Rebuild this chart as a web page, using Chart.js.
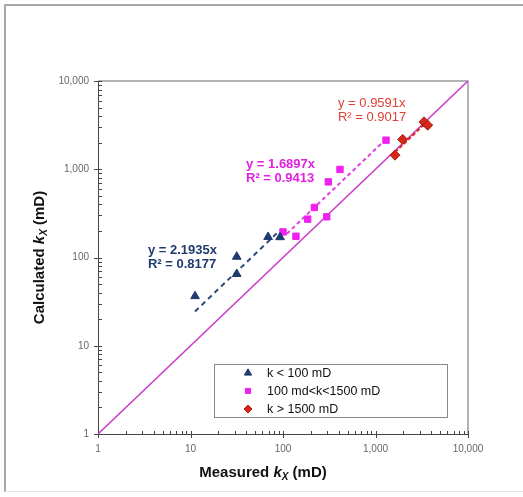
<!DOCTYPE html>
<html><head><meta charset="utf-8">
<script src="https://cdn.jsdelivr.net/npm/chart.js@4.4.0/dist/chart.umd.min.js"></script>
<style>html,body{margin:0;padding:0;background:#fff;overflow:hidden;} canvas{display:block;}</style>
</head><body>
<canvas id="c" width="523" height="497"></canvas>
<script>
// ---- data ----
const seriesNames = ['k < 100 mD', '100 md<k<1500 mD', 'k > 1500 mD'];
const lowMeasured = [11.2, 31.6, 31.6, 69, 93];
const lowCalculated = [36.5, 102, 65, 171, 170];
const midMeasured = [100, 138, 185, 218, 297, 309, 413, 1300];
const midCalculated = [195, 174, 272, 369, 289, 719, 995, 2135];
const highMeasured = [1625, 1967, 3344, 3663];
const highCalculated = [1445, 2175, 3440, 3162];
const lowTrendX = [11.2, 93];
const lowTrendY = [24.5, 204];
const midTrendX = [110, 1300];
const midTrendY = [186, 2197];
const highTrendX = [1625, 3663];
const highTrendY = [1558, 3513];
const unityX = [1, 10000];
const unityY = [1, 10000];
const tickValues = [1, 10, 100, 1000, 10000];
const lowFitText = ['y = 2.1935x', 'R² = 0.8177'];
const midFitText = ['y = 1.6897x', 'R² = 0.9413'];
const highFitText = ['y = 0.9591x', 'R² = 0.9017'];
const xTitleParts = ['Measured ', 'k', 'X', ' (mD)'];
const yTitleParts = ['Calculated ', 'k', 'X', ' (mD)'];

const FONT = '"Liberation Sans", Arial, Helvetica, sans-serif';
const NAVY = '#1f3a6e';
const MAGENTA = '#f020f0';
const RED = '#d8261a';
const UNITY = '#cc3fcc';

const pts = (xs, ys) => xs.map((x, i) => ({x: x, y: ys[i]}));

function drawRich(ctx, parts, cx, cy, rotate) {
  const fonts = ['bold 15px ' + FONT, 'italic bold 15px ' + FONT, 'italic bold 10px ' + FONT, 'bold 15px ' + FONT];
  const dys = [0, 0, 4, 0];
  let w = 0; const ws = [];
  parts.forEach((p, i) => { ctx.font = fonts[i]; const m = ctx.measureText(p).width; ws.push(m); w += m; });
  ctx.save();
  ctx.translate(cx, cy);
  if (rotate) ctx.rotate(-Math.PI / 2);
  ctx.fillStyle = '#111';
  ctx.textBaseline = 'middle';
  ctx.textAlign = 'left';
  let x = -w / 2;
  parts.forEach((p, i) => { ctx.font = fonts[i]; ctx.fillText(p, x, dys[i]); x += ws[i]; });
  ctx.restore();
}

const decor = {
  id: 'decor',
  beforeDraw(chart) {
    const ctx = chart.ctx;
    ctx.save();
    ctx.fillStyle = '#fff';
    ctx.fillRect(0, 0, chart.width, chart.height);
    ctx.strokeStyle = '#a8a8a8';
    ctx.lineWidth = 2;
    ctx.beginPath();
    ctx.moveTo(5, chart.height - 5); ctx.lineTo(5, 5); ctx.lineTo(chart.width, 5);
    ctx.stroke();
    ctx.strokeStyle = '#e4e4e4';
    ctx.lineWidth = 1;
    ctx.beginPath(); ctx.moveTo(5, chart.height - 5.5); ctx.lineTo(chart.width, chart.height - 5.5); ctx.stroke();
    ctx.restore();
  },
  beforeDatasetsDraw(chart) {
    const ctx = chart.ctx, a = chart.chartArea;
    const xs = chart.scales.x, ys = chart.scales.y;
    ctx.save();
    ctx.lineWidth = 1.5;
    ctx.strokeStyle = '#9a9a9a';
    ctx.beginPath();
    ctx.moveTo(a.left, a.top); ctx.lineTo(a.right, a.top); ctx.lineTo(a.right, a.bottom);
    ctx.stroke();
    ctx.strokeStyle = '#444';
    ctx.lineWidth = 1;
    ctx.beginPath();
    ctx.moveTo(a.left + 0.5, a.top); ctx.lineTo(a.left + 0.5, a.bottom + 0.5); ctx.lineTo(a.right, a.bottom + 0.5);
    ctx.stroke();
    ctx.beginPath();
    for (let d = 0; d < tickValues.length; d++) {
      const v = tickValues[d];
      const px = Math.round(xs.getPixelForValue(v)) + 0.5;
      const py = Math.round(ys.getPixelForValue(v)) + 0.5;
      ctx.moveTo(px, a.bottom - 3); ctx.lineTo(px, a.bottom + 4);
      ctx.moveTo(a.left - 4, py); ctx.lineTo(a.left + 4, py);
      if (d < tickValues.length - 1) {
        for (let k = 2; k <= 9; k++) {
          const mx = Math.round(xs.getPixelForValue(v * k)) + 0.5;
          const my = Math.round(ys.getPixelForValue(v * k)) + 0.5;
          ctx.moveTo(mx, a.bottom - 3); ctx.lineTo(mx, a.bottom + 0.5);
          ctx.moveTo(a.left, my); ctx.lineTo(a.left + 4, my);
        }
      }
    }
    ctx.stroke();
    ctx.restore();
  },
  afterDraw(chart) {
    const ctx = chart.ctx, a = chart.chartArea;
    const xs = chart.scales.x, ys = chart.scales.y;
    ctx.save();
    const labs = [
      {t: lowFitText, x: 3.47, y: 121, c: NAVY, w: 'bold'},
      {t: midFitText, x: 39.8, y: 1142, c: '#e21fe2', w: 'bold'},
      {t: highFitText, x: 393, y: 5607, c: '#e04036', w: 'normal'}
    ];
    ctx.textAlign = 'left';
    ctx.textBaseline = 'middle';
    labs.forEach(l => {
      ctx.font = l.w + ' 13px ' + FONT;
      ctx.fillStyle = l.c;
      const px = xs.getPixelForValue(l.x), py = ys.getPixelForValue(l.y);
      ctx.fillText(l.t[0], px, py);
      ctx.fillText(l.t[1], px, py + 14);
    });
    const lx = a.left + 116, ly = a.top + 283, lw = 233, lh = 53;
    ctx.fillStyle = '#fff';
    ctx.fillRect(lx, ly, lw, lh);
    ctx.strokeStyle = '#888';
    ctx.lineWidth = 1;
    ctx.strokeRect(lx + 0.5, ly + 0.5, lw, lh);
    ctx.font = '12.5px ' + FONT;
    ctx.textBaseline = 'middle';
    const legendRadius = [4.2, 3.6, 4];
    for (let i = 0; i < 3; i++) {
      const ds = chart.data.datasets[i];
      const cy = ly + 9 + i * 18;
      ctx.fillStyle = ds.backgroundColor;
      ctx.strokeStyle = ds.borderColor;
      ctx.lineWidth = 1;
      Chart.helpers.drawPoint(ctx, {pointStyle: ds.pointStyle, radius: legendRadius[i], borderWidth: 1, rotation: 0}, lx + 34, cy);
      ctx.fillStyle = '#111';
      ctx.fillText(seriesNames[i], lx + 53, cy + 1);
    }
    drawRich(ctx, xTitleParts, (a.left + a.right) / 2 - 20, 473, false);
    drawRich(ctx, yTitleParts, 40, (a.top + a.bottom) / 2, true);
    ctx.restore();
  }
};

const tickCallback = v => tickValues.includes(v) ? v.toLocaleString('en-US') : '';

new Chart(document.getElementById('c'), {
  type: 'scatter',
  data: {
    datasets: [
      {label: seriesNames[0], data: pts(lowMeasured, lowCalculated), pointStyle: 'triangle', pointRadius: 5, backgroundColor: NAVY, borderColor: NAVY, borderWidth: 1},
      {label: seriesNames[1], data: pts(midMeasured, midCalculated), pointStyle: 'rect', pointRadius: 4.5, backgroundColor: MAGENTA, borderColor: MAGENTA, borderWidth: 1},
      {label: seriesNames[2], data: pts(highMeasured, highCalculated), pointStyle: 'rectRot', pointRadius: 5, backgroundColor: RED, borderColor: '#a81a10', borderWidth: 1},
      {label: 'unity', data: pts(unityX, unityY), showLine: true, pointRadius: 0, borderColor: UNITY, borderWidth: 1.6, order: 5},
      {label: 'fitLow', data: pts(lowTrendX, lowTrendY), showLine: true, pointRadius: 0, borderColor: '#2e4a78', borderWidth: 2, borderDash: [5, 4], order: 4},
      {label: 'fitMid', data: pts(midTrendX, midTrendY), showLine: true, pointRadius: 0, borderColor: '#e040e0', borderWidth: 2, borderDash: [4, 3], order: 4},
      {label: 'fitHigh', data: pts(highTrendX, highTrendY), showLine: true, pointRadius: 0, borderColor: '#d83020', borderWidth: 2, borderDash: [4, 2], order: 4}
    ]
  },
  options: {
    responsive: false,
    animation: false,
    events: [],
    layout: {padding: {top: 81, right: 55, left: 0, bottom: 0}, autoPadding: false},
    plugins: {legend: {display: false}, tooltip: {enabled: false}},
    scales: {
      x: {
        type: 'logarithmic', min: 1, max: 10000, position: 'bottom',
        afterBuildTicks: s => { s.ticks = tickValues.map(v => ({value: v})); },
        afterFit: s => { s.height = 63; },
        grid: {display: false, drawTicks: false},
        border: {display: false},
        ticks: {callback: tickCallback, autoSkip: false, maxRotation: 0, padding: 9, color: '#666', font: {family: FONT, size: 10}}
      },
      y: {
        type: 'logarithmic', min: 1, max: 10000,
        afterBuildTicks: s => { s.ticks = tickValues.map(v => ({value: v})); },
        afterFit: s => { s.width = 98; },
        grid: {display: false, drawTicks: false},
        border: {display: false},
        ticks: {callback: tickCallback, autoSkip: false, padding: 9, color: '#666', font: {family: FONT, size: 10}}
      }
    }
  },
  plugins: [decor]
});
</script>
</body></html>
